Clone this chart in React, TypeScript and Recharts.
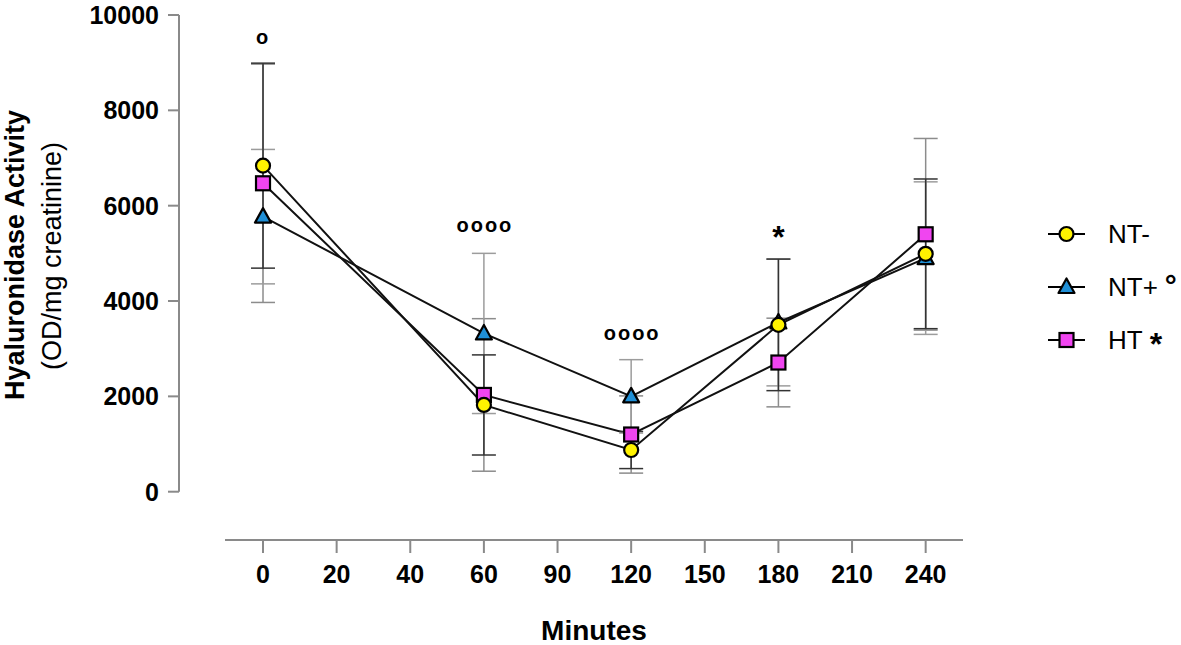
import {
    ErrorBar,
    Label,
    Line,
    LineChart,
    ReferenceDot,
    ReferenceLine,
    XAxis,
    YAxis,
} from "recharts";

const tickLabels = [0, 20, 40, 60, 90, 120, 150, 180, 210, 240];
const minutes = [0, 60, 120, 180, 240];

const ntMinus = [6840, 1820, 875, 3500, 4990];
const ntMinusSd = [2150, 1050, 390, 1380, 1570];
const ntPlus = [5770, 3320, 2000, 3550, 4900];
const ntPlusSd = [1410, 1680, 770, 1330, 1600];
const ht = [6470, 2030, 1200, 2710, 5400];
const htSd = [2500, 1600, 810, 930, 2010];

const yTicks = [0, 2000, 4000, 6000, 8000, 10000];

const annotations = [
    { minute: 0, y: 9510, text: "o" },
    { minute: 60, y: 5560, text: "oooo" },
    { minute: 120, y: 3290, text: "oooo" },
    { minute: 180, y: 5450, text: "*" },
];

const FONT = "'Liberation Sans', Arial, Helvetica, sans-serif";
const AXIS = "#8a8a8a";
const YELLOW = "#fff200";
const BLUE = "#1f8fd6";
const PINK = "#f045f0";

// x is laid out by category index, like the original
const pos = (m: number) => tickLabels.indexOf(m);
const X_MIN = -1.141;
const X_MAX = 9.507;
const X_LINE_START = -0.516;
const Y_MIN = -1013;

const data = minutes.map((m, i) => ({
    pos: pos(m),
    ntMinus: ntMinus[i],
    ntMinusSd: ntMinusSd[i],
    ntPlus: ntPlus[i],
    ntPlusSd: ntPlusSd[i],
    ht: ht[i],
    htSd: htSd[i],
}));

type Shape = "circle" | "triangle" | "square";

function Marker({ shape, cx, cy }: { shape: Shape; cx: number; cy: number }) {
    if (shape === "circle") {
        return <circle cx={cx} cy={cy} r={7} fill={YELLOW} stroke="#000" strokeWidth={2.2} />;
    }
    if (shape === "triangle") {
        const pts = `${cx},${cy - 8.5} ${cx - 8},${cy + 6} ${cx + 8},${cy + 6}`;
        return <polygon points={pts} fill={BLUE} stroke="#000" strokeWidth={2.2} strokeLinejoin="round" />;
    }
    return (
        <rect x={cx - 7} y={cy - 7} width={14} height={14} fill={PINK} stroke="#000" strokeWidth={2.2} />
    );
}

const makeDot = (shape: Shape) => (props: any) => {
    const { cx, cy, index } = props;
    if (cx == null || cy == null) return <g key={`${shape}-${index}`} />;
    return <Marker key={`${shape}-${index}`} shape={shape} cx={cx} cy={cy} />;
};

const renderYTitle = () => (
    <g fontFamily={FONT} fill="#000">
        <text x={24} y={255} transform="rotate(-90 24 255)" textAnchor="middle" fontSize={27} fontWeight="bold">
            Hyaluronidase Activity
        </text>
        <text x={61} y={256} transform="rotate(-90 61 256)" textAnchor="middle" fontSize={27}>
            (OD/mg creatinine)
        </text>
    </g>
);

const renderXTitle = () => (
    <text x={594} y={640} textAnchor="middle" fontFamily={FONT} fontSize={28} fontWeight="bold" fill="#000">
        Minutes
    </text>
);

const legendItems: { shape: Shape; label: string; mark?: string }[] = [
    { shape: "circle", label: "NT-" },
    { shape: "triangle", label: "NT+", mark: "°" },
    { shape: "square", label: "HT", mark: "*" },
];

function LegendOverlay() {
    return (
        <svg
            width={1181}
            height={645}
            style={{ position: "absolute", left: 0, top: 0, pointerEvents: "none" }}
        >
            {legendItems.map((item, i) => {
                const y = 234 + i * 53;
                return (
                    <g key={item.label}>
                        <line x1={1048} x2={1085} y1={y} y2={y} stroke="#000" strokeWidth={2} />
                        <Marker shape={item.shape} cx={1066.5} cy={y} />
                        <text x={1108} y={y + 9} fontFamily={FONT} fontSize={26} fill="#000">
                            {item.label}
                            {item.mark === "°" && (
                                <tspan dx={7} fontSize={30} fontWeight="bold">°</tspan>
                            )}
                            {item.mark === "*" && (
                                <tspan dx={7} dy={6} fontSize={32} fontWeight="bold">*</tspan>
                            )}
                        </text>
                    </g>
                );
            })}
        </svg>
    );
}

export default function App() {
    return (
        <div style={{ position: "absolute", left: 0, top: 0, width: 1181, height: 645, background: "#fff" }}>
            <LineChart
                width={1181}
                height={645}
                data={data}
                margin={{ top: 15, right: 218, bottom: 45, left: 0 }}
            >
                <XAxis
                    type="number"
                    dataKey="pos"
                    domain={[X_MIN, X_MAX]}
                    allowDataOverflow
                    ticks={tickLabels.map((_, i) => i)}
                    interval={0}
                    tickFormatter={(v: number) => String(tickLabels[v] ?? "")}
                    axisLine={false}
                    tickLine={{ stroke: AXIS, strokeWidth: 2 }}
                    tickSize={13}
                    tickMargin={12}
                    height={60}
                    tick={{ fill: "#000", fontSize: 25, fontWeight: "bold", fontFamily: FONT }}
                >
                    <Label content={renderXTitle} />
                </XAxis>
                <YAxis
                    type="number"
                    domain={[Y_MIN, 10000]}
                    allowDataOverflow
                    ticks={yTicks}
                    interval={0}
                    width={179}
                    axisLine={false}
                    tickLine={{ stroke: AXIS, strokeWidth: 2 }}
                    tickSize={11}
                    tickMargin={9}
                    tick={{ fill: "#000", fontSize: 25, fontWeight: "bold", fontFamily: FONT }}
                >
                    <Label content={renderYTitle} />
                </YAxis>

                <ReferenceLine
                    segment={[{ x: X_MIN, y: 0 }, { x: X_MIN, y: 10000 }]}
                    stroke={AXIS}
                    strokeWidth={2}
                    ifOverflow="visible"
                />
                <ReferenceLine
                    segment={[{ x: X_LINE_START, y: Y_MIN }, { x: X_MAX, y: Y_MIN }]}
                    stroke={AXIS}
                    strokeWidth={2}
                    ifOverflow="visible"
                />

                <Line
                    dataKey="ht"
                    stroke="#111"
                    strokeWidth={2}
                    dot={makeDot("square")}
                    activeDot={false}
                    isAnimationActive={false}
                >
                    <ErrorBar dataKey="htSd" width={12} stroke="#8c8c8c" strokeWidth={1.5} direction="y" />
                </Line>
                <Line
                    dataKey="ntPlus"
                    stroke="#111"
                    strokeWidth={2}
                    dot={makeDot("triangle")}
                    activeDot={false}
                    isAnimationActive={false}
                >
                    <ErrorBar dataKey="ntPlusSd" width={12} stroke="#9c9c9c" strokeWidth={1.5} direction="y" />
                </Line>
                <Line
                    dataKey="ntMinus"
                    stroke="#111"
                    strokeWidth={2}
                    dot={makeDot("circle")}
                    activeDot={false}
                    isAnimationActive={false}
                >
                    <ErrorBar dataKey="ntMinusSd" width={12} stroke="#333" strokeWidth={1.5} direction="y" />
                </Line>

                {annotations.map((a) => (
                    <ReferenceDot
                        key={`${a.minute}-${a.text}`}
                        x={pos(a.minute)}
                        y={a.y}
                        r={0}
                        ifOverflow="visible"
                        shape={(p: any) => (
                            <text
                                x={p.cx}
                                y={a.text === "*" ? p.cy + 16 : p.cy + 5.5}
                                textAnchor="middle"
                                fontFamily={FONT}
                                fontWeight="bold"
                                fontSize={a.text === "*" ? 32 : 20}
                                letterSpacing={a.text === "*" ? 0 : 2}
                                dx={a.text.length > 1 ? 1 : 0}
                                fill="#000"
                            >
                                {a.text}
                            </text>
                        )}
                    />
                ))}
            </LineChart>
            <LegendOverlay />
        </div>
    );
}
